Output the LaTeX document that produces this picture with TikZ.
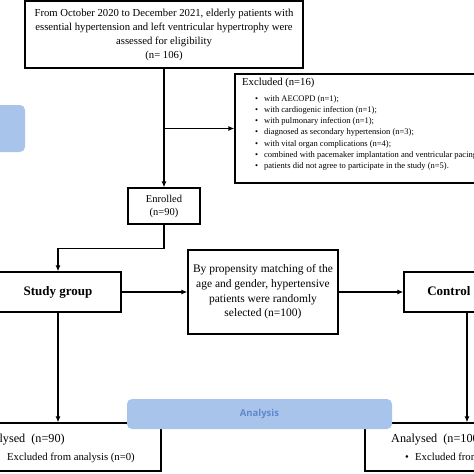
\documentclass[tikz,border=0pt]{standalone}
\usepackage{fontspec}
\setmainfont{Liberation Serif}
\newfontfamily\labelsans{Open Sans}
\usetikzlibrary{arrows.meta}
\definecolor{panelblue}{HTML}{A9C4EB}
\definecolor{paneltext}{HTML}{5F88CC}
\begin{document}
\begin{tikzpicture}[x=1pt,y=-1pt,
  box/.style={draw=black, line width=1.2pt, inner sep=0pt, fill=white},
  arr/.style={-{Latex[length=6pt,width=5pt]}, line width=1.2pt},
  txt/.style={inner sep=0pt, anchor=west},
  panel/.style={fill=panelblue, draw=none, rounded corners=5pt, inner sep=0pt}]
\useasboundingbox (0,0) rectangle (474,474);
% side tab
\node[panel, minimum width=80pt, minimum height=47pt] (sidetab) at (-15,128.5) {};
% top box
\node[box, minimum width=278pt, minimum height=67pt, align=center,
  font=\fontsize{10.7}{14}\selectfont] (top) at (164,34.5)
  {From October 2020 to December 2021, elderly patients with\\essential hypertension and left ventricular hypertrophy were\\assessed for eligibility\\(n= 106)};
% excluded box
\node[box, minimum width=280pt, minimum height=109pt] (excl) at (375,128.5) {};
\node[txt, font=\fontsize{10.7}{13}\selectfont] (exh) at (242,83) {Excluded (n=16)};
\node[inner sep=0pt, anchor=north west, align=left, font=\fontsize{8.5}{11.1}\selectfont] (exl) at (255,95.5)
  {\makebox[9pt][l]{•}with AECOPD (n=1);\\
   \makebox[9pt][l]{•}with cardiogenic infection (n=1);\\
   \makebox[9pt][l]{•}with pulmonary infection (n=1);\\
   \makebox[9pt][l]{•}diagnosed as secondary hypertension (n=3);\\
   \makebox[9pt][l]{•}with vital organ complications (n=4);\\
   \makebox[9pt][l]{•}combined with pacemaker implantation and ventricular pacing (n=2);\\
   \makebox[9pt][l]{•}patients did not agree to participate in the study (n=5).};
% enrolled
\node[box, minimum width=72pt, minimum height=36pt, align=center,
  font=\fontsize{10.5}{13}\selectfont] (enr) at (164,206) {Enrolled\\(n=90)};
\coordinate (split) at (top.south |- excl.west);
\draw[arr] (top.south) -- (enr.north);
\draw[arr] (split) -- (excl.west);
% groups
\node[box, minimum width=126pt, minimum height=40pt, font=\bfseries\fontsize{13}{15}\selectfont] (study) at (58,292) {Study group};
\node[box, minimum width=150pt, minimum height=84pt, align=center,
  font=\fontsize{11.5}{14.7}\selectfont] (match) at (263,292)
  {By propensity matching of the\\age and gender, hypertensive\\patients were randomly\\selected (n=100)};
\node[box, minimum width=126pt, minimum height=40pt, font=\bfseries\fontsize{13}{15}\selectfont] (ctrl) at (467,292) {Control group};
\draw[arr] (enr.south) -- ++(0,24) -| (study.north);
\draw[arr] (study.east) -- (match.west);
\draw[arr] (match.east) -- (ctrl.west);
% analysed boxes
\node[box, minimum width=207pt, minimum height=48pt] (anl) at (57.5,447) {};
\node[box, minimum width=207pt, minimum height=48pt] (anr) at (468.5,447) {};
\draw[arr] (study.south) -- (study.south |- anl.north);
\draw[arr] (ctrl.south) -- (ctrl.south |- anr.north);
\node[txt, font=\fontsize{12.2}{14}\selectfont] (anltxt) at (-21,440) {Analysed\ \ (n=90)};
\node[txt, font=\fontsize{10.7}{13}\selectfont] (anlex) at (-5,458) {\makebox[12pt][l]{•}Excluded from analysis (n=0)};
\node[txt, font=\fontsize{12.2}{14}\selectfont] (anrtxt) at (391,440) {Analysed\ \ (n=100)};
\node[txt, font=\fontsize{10.7}{13}\selectfont] (anrex) at (405,458) {\makebox[10pt][l]{•}Excluded from analysis (n=0)};
% analysis banner
\node[panel, minimum width=265pt, minimum height=30pt, text=paneltext,
  font=\labelsans\bfseries\fontsize{9.5}{11}\selectfont] (analysis) at (259.5,414) {Analysis};
\end{tikzpicture}
\end{document}
